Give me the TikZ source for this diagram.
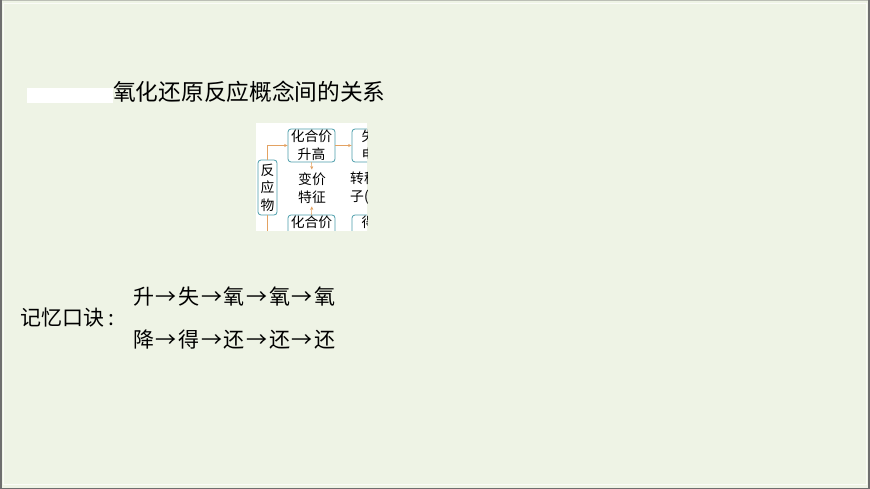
\documentclass[tikz,border=0pt]{standalone}
\usepackage{fontspec}
\setmainfont{Noto Sans CJK SC}
\usetikzlibrary{arrows.meta}
\definecolor{slidebg}{HTML}{EEF3E5}
\definecolor{kuangxian}{HTML}{4A9DAA}
\definecolor{jiantouse}{HTML}{E3A262}
\definecolor{biankuang}{HTML}{6E6E6E}
\newcommand{\jt}{\makebox[24.3pt]{→}}

\begin{document}
\begin{tikzpicture}[
    x=1pt,
    y=-1pt,
    kuang/.style={
      draw=kuangxian,
      fill=white,
      rounded corners=3pt,
      line width=0.8pt,
      inner sep=1pt,
      align=center,
      font=\fontsize{13.8}{17.5}\selectfont
    },
    wenzi/.style={inner sep=0, font=\fontsize{13.8}{17.5}\selectfont},
    jiantou/.style={draw=jiantouse, line width=0.6pt, -{Stealth[length=3.5pt, width=3pt]}},
    koujue/.style={anchor=west, inner sep=0, font=\fontsize{21}{25}\selectfont}]
   \useasboundingbox (0,0) rectangle (870,489);
   \fill[slidebg] (0,0) rectangle (870,489);
   \draw[white!70!slidebg, line width=0.8pt] (3.5,3.5) rectangle (866.5,484.5);
   \draw[biankuang!40!slidebg, line width=1pt] (1,0.5) -- (869,0.5);
   \draw[biankuang, line width=1.5pt] (0.75,0) -- (0.75,488.25) -- (868.75,488.25) -- (868.75,0);

   \fill[white] (27,88) rectangle (113,103);
   \node(biaoti) at (113,92) [anchor=west, inner sep=0, font=\fontsize{22.7}{26}\selectfont]
     {氧化还原反应概念间的关系};

   \fill[white] (256,123) rectangle (367,231);
   \begin{scope}
     \clip (256,123) rectangle (367,231);
     \path
       node(fyw)   at (267.5,187.5) [kuang, minimum width=19, minimum height=55] {反\\应\\物}
       node(shg)   at (311.5,145.5) [kuang, minimum width=47, minimum height=33] {化合价\\升高}
       node(shdz)  at (375.5,145.5) [kuang, minimum width=47, minimum height=33] {失去\\电子}
       node(bjtz)  at (312,188)     [wenzi, align=center] {变价\\特征}
       node(zydz)  at (350,188)     [wenzi, align=left, anchor=west] {转移电\\子(或偏}
       node(jhj)   at (311.5,231.5) [kuang, minimum width=47, minimum height=33] {化合价\\降低}
       node(dddz)  at (375.5,231.5) [kuang, minimum width=47, minimum height=33] {得到\\电子};

     \draw[jiantou] (fyw.north) |- (shg.west);
     \draw[jiantouse, line width=0.6pt] (fyw.south) |- (jhj.west);
     \draw[jiantou] (shg.east) -- (shdz.west);
     \draw[jiantou, shorten >=3pt] (shg.south) -- (bjtz.north);
     \draw[jiantou, shorten >=3pt] (jhj.north) -- (bjtz.south);
   \end{scope}

   \node(jy) at (20,318) [koujue] {记忆口诀\hspace{4pt}:};
   \node(sheng) at (133,297) [koujue] {升\jt 失\jt 氧\jt 氧\jt 氧};
   \node(jiang) at (133,340) [koujue] {降\jt 得\jt 还\jt 还\jt 还};
\end{tikzpicture}
\end{document}
